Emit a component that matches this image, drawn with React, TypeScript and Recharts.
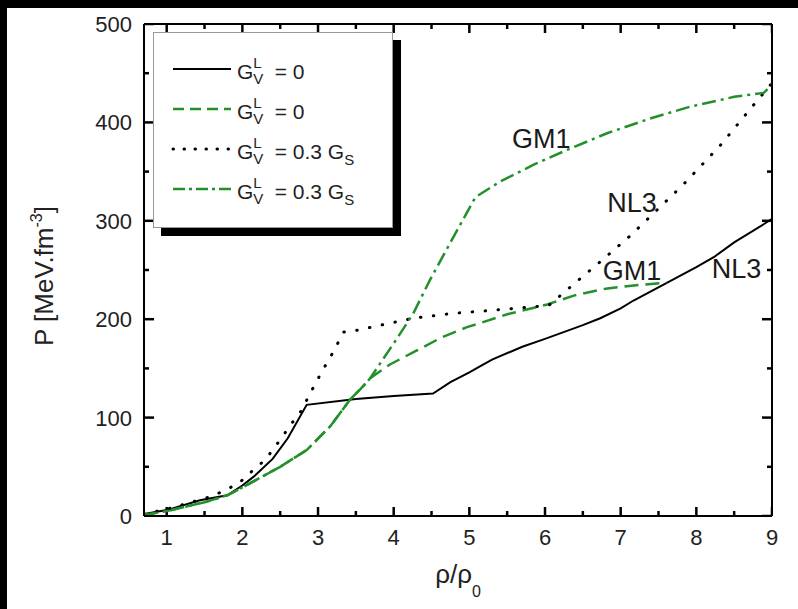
import React from 'react';
import { LineChart, Line, XAxis, YAxis, Legend, ReferenceDot, Label } from 'recharts';

const GREEN = '#23902a';
const FONT = '"Liberation Sans", Arial, Helvetica, sans-serif';

// NL3, G_V^L = 0 (solid black)
const rhoNL3a = [0.7, 1.0, 1.44, 1.8, 2.0, 2.15, 2.4, 2.6, 2.85, 3.5, 4.0, 4.52, 4.75, 5.0, 5.14, 5.3, 5.7, 6.0, 6.5, 6.73, 7.0, 7.17, 7.61, 8.0, 8.23, 8.5, 8.9, 9.0];
const pNL3a = [2, 6, 16, 21, 31, 40, 58, 79, 113, 119, 122, 124.5, 136, 146, 152, 159, 172, 180, 194, 201, 211, 219, 237, 253, 263, 278, 297, 302];

// GM1, G_V^L = 0 (dashed green)
const rhoGM1a = [0.7, 1.0, 1.5, 1.8, 2.0, 2.19, 2.5, 2.85, 3.16, 3.42, 3.56, 3.69, 3.95, 4.3, 4.62, 4.97, 5.14, 5.5, 6.03, 6.38, 6.8, 7.26, 7.61];
const pGM1a = [1, 5, 14, 21, 29, 37, 50, 67, 91, 118, 129, 140, 154, 168, 181, 192, 196, 205, 215, 224, 231, 235, 237];

// NL3, G_V^L = 0.3 G_S (dotted black)
const rhoNL3b = [0.7, 1.0, 1.6, 1.95, 2.12, 2.3, 2.43, 2.55, 2.67, 2.79, 2.87, 3.06, 3.16, 3.25, 3.34, 3.53, 3.89, 4.26, 4.79, 5.14, 5.6, 6.05, 6.4, 6.77, 7.13, 7.48, 7.83, 8.32, 8.76, 9.0];
const pNL3b = [2, 7, 20, 33, 45, 57, 70, 83, 96, 108, 121, 148, 161, 174, 187, 189, 195, 201, 206, 208, 211, 214, 237, 261, 285, 311, 337, 377, 418, 440];

// GM1, G_V^L = 0.3 G_S (dash-dot green)
const rhoGM1b = [0.7, 1.0, 1.5, 1.8, 2.0, 2.19, 2.5, 2.85, 3.16, 3.42, 3.56, 3.69, 4.04, 4.26, 4.48, 4.8, 5.08, 5.41, 5.85, 6.29, 6.82, 7.39, 7.92, 8.5, 8.89, 9.0];
const pGM1b = [1, 5, 14, 21, 29, 37, 50, 67, 91, 118, 129, 140, 180, 206, 240, 285, 324, 340, 357, 372, 389, 404, 416, 426, 430, 438];

const xTicks = [1, 1.5, 2, 2.5, 3, 3.5, 4, 4.5, 5, 5.5, 6, 6.5, 7, 7.5, 8, 8.5, 9];
const yTicks = [0, 50, 100, 150, 200, 250, 300, 350, 400, 450, 500];
const X_DOMAIN = [0.7, 9];
const Y_DOMAIN = [0, 500];

const annotations = [
  { text: 'GM1', x: 5.95, y: 384 },
  { text: 'NL3', x: 7.15, y: 319 },
  { text: 'GM1', x: 7.15, y: 250 },
  { text: 'NL3', x: 8.53, y: 252 },
];

const zip = (xs: number[], ps: number[]) => xs.map((x, i) => ({ x, p: ps[i] }));

const series = [
  { key: 'nl3a', data: zip(rhoNL3a, pNL3a), color: '#000', width: 2, dash: undefined as string | undefined, legendDash: undefined as string | undefined, cap: 'butt', tail: '= 0', sub: '' },
  { key: 'gm1a', data: zip(rhoGM1a, pGM1a), color: GREEN, width: 2.5, dash: '14 7', legendDash: '11 6', cap: 'butt', tail: '= 0', sub: '' },
  { key: 'nl3b', data: zip(rhoNL3b, pNL3b), color: '#000', width: 3, dash: '0.5 12.5', legendDash: '0.5 10.5', cap: 'round', tail: '= 0.3 G', sub: 'S' },
  { key: 'gm1b', data: zip(rhoGM1b, pGM1b), color: GREEN, width: 2.5, dash: '14 5 3 5', legendDash: '12 4 3 4', cap: 'butt', tail: '= 0.3 G', sub: 'S' },
];

// chart geometry
const W = 798;
const H = 609;
const MARGIN = { top: 4, right: 6, bottom: 33, left: 44 };
const AX = { left: 100, right: 20, top: 20, bottom: 60 };
const plotW = W - MARGIN.left - MARGIN.right - AX.left - AX.right;
const plotH = H - MARGIN.top - MARGIN.bottom - AX.top - AX.bottom;
// tick length in px -> data units, so the inward frame ticks sit on the same scales
const dx = (px: number) => (px * (X_DOMAIN[1] - X_DOMAIN[0])) / plotW;
const dy = (px: number) => (px * (Y_DOMAIN[1] - Y_DOMAIN[0])) / plotH;

const isMajorX = (v: number) => Number.isInteger(v);
const isMajorY = (v: number) => v % 100 === 0;

// inward tick marks on all four sides, one short segment each
const xLen = (v: number) => dy(isMajorX(v) ? 9 : 5);
const yLen = (v: number) => dx(isMajorY(v) ? 10 : 5);
const tickSegments = [
  ...xTicks.map((v) => [{ x: v, p: Y_DOMAIN[0] }, { x: v, p: Y_DOMAIN[0] + xLen(v) }]),
  ...xTicks.map((v) => [{ x: v, p: Y_DOMAIN[1] }, { x: v, p: Y_DOMAIN[1] - xLen(v) }]),
  ...yTicks.map((v) => [{ x: X_DOMAIN[0], p: v }, { x: X_DOMAIN[0] + yLen(v), p: v }]),
  ...yTicks.map((v) => [{ x: X_DOMAIN[1], p: v }, { x: X_DOMAIN[1] - yLen(v), p: v }]),
];

const BottomLabel = (props: any) => {
  const { x, y, payload } = props;
  if (!isMajorX(payload.value)) return null;
  return (
    <text x={x} y={y + 29} textAnchor="middle" fontSize={22} fontFamily={FONT} fill="#222">
      {payload.value}
    </text>
  );
};

const LeftLabel = (props: any) => {
  const { x, y, payload } = props;
  if (!isMajorY(payload.value)) return null;
  return (
    <text x={x - 12} y={y + 8} textAnchor="end" fontSize={22} fontFamily={FONT} fill="#222">
      {payload.value}
    </text>
  );
};

const YTitle = (props: any) => {
  const vb = props.viewBox;
  const cx = vb.x + vb.width - 91;
  const cy = vb.y + vb.height / 2 + 6;
  return (
    <text transform={`rotate(-90 ${cx} ${cy})`} x={cx} y={cy} textAnchor="middle" fontSize={26} fontFamily={FONT} fill="#222">
      P [MeV.fm<tspan dy={-11} fontSize={16}>-3</tspan>
      <tspan dy={11}>]</tspan>
    </text>
  );
};

const XTitle = (props: any) => {
  const vb = props.viewBox;
  return (
    <text x={vb.x + vb.width / 2} y={vb.y + 67} textAnchor="middle" fontSize={26} fontFamily={FONT} fill="#222">
      ρ/ρ<tspan dy={14} fontSize={16}>0</tspan>
    </text>
  );
};

const LegendBox = () => (
  <div
    style={{
      width: 240,
      height: 196,
      boxSizing: 'border-box',
      background: '#fff',
      border: '1px solid #999',
      boxShadow: '8px 8px 0 #000',
    }}
  >
    <svg width={238} height={194} style={{ display: 'block' }}>
      {series.map((s, i) => {
        const cy = 36 + i * 40;
        return (
          <g key={s.key} fontFamily={FONT} fill="#222">
            <line x1={19} x2={77} y1={cy} y2={cy} stroke={s.color} strokeWidth={s.width} strokeDasharray={s.legendDash} strokeLinecap={s.cap as any} />
            <text x={83} y={cy + 10} fontSize={21}>
              G
              <tspan dy={5} fontSize={15}>V</tspan>
              <tspan dx={-10} dy={-16} fontSize={15}>L</tspan>
              <tspan dx={13} dy={11} fontSize={21}>{s.tail}</tspan>
              {s.sub && <tspan dy={6} fontSize={15}>{s.sub}</tspan>}
            </text>
          </g>
        );
      })}
    </svg>
  </div>
);

export default function App() {
  return (
    <div style={{ position: 'fixed', left: 0, top: 0, width: W, height: H, background: '#000', overflow: 'hidden' }}>
      <div style={{ position: 'absolute', left: 7, top: 8, right: 0, bottom: 0, background: '#fff' }} />
      <div style={{ position: 'absolute', left: 0, top: 0 }}>
        <LineChart width={W} height={H} margin={MARGIN}>
          <XAxis
            type="number"
            dataKey="x"
            domain={X_DOMAIN}
            allowDataOverflow
            ticks={xTicks}
            interval={0}
            height={AX.bottom}
            tickSize={0}
            tickMargin={0}
            tickLine={false}
            axisLine={{ stroke: '#000', strokeWidth: 2 }}
            tick={<BottomLabel />}
          >
            <Label content={<XTitle />} />
          </XAxis>
          <XAxis
            xAxisId="top"
            orientation="top"
            type="number"
            dataKey="x"
            domain={X_DOMAIN}
            allowDataOverflow
            ticks={xTicks}
            height={AX.top}
            tick={false}
            tickLine={false}
            axisLine={{ stroke: '#000', strokeWidth: 2 }}
          />
          <YAxis
            type="number"
            domain={Y_DOMAIN}
            allowDataOverflow
            ticks={yTicks}
            interval={0}
            width={AX.left}
            tickSize={0}
            tickMargin={0}
            tickLine={false}
            axisLine={{ stroke: '#000', strokeWidth: 2 }}
            tick={<LeftLabel />}
          >
            <Label content={<YTitle />} />
          </YAxis>
          <YAxis
            yAxisId="right"
            orientation="right"
            type="number"
            domain={Y_DOMAIN}
            allowDataOverflow
            ticks={yTicks}
            width={AX.right}
            tick={false}
            tickLine={false}
            axisLine={{ stroke: '#000', strokeWidth: 2 }}
          />
          {tickSegments.map((d, i) => (
            <Line
              key={`tick${i}`}
              data={d}
              dataKey="p"
              type="linear"
              stroke="#000"
              strokeWidth={2.5}
              dot={false}
              activeDot={false}
              legendType="none"
              isAnimationActive={false}
            />
          ))}
          {series.map((s) => (
            <Line
              key={s.key}
              data={s.data}
              dataKey="p"
              type="linear"
              stroke={s.color}
              strokeWidth={s.width}
              strokeDasharray={s.dash}
              strokeLinecap={s.cap as any}
              dot={false}
              activeDot={false}
              isAnimationActive={false}
            />
          ))}
          {annotations.map((a, i) => (
            <ReferenceDot
              key={i}
              x={a.x}
              y={a.y}
              r={0}
              fill="none"
              stroke="none"
              label={{ value: a.text, position: 'center', fontSize: 27, fill: '#1a1a1a', fontFamily: FONT }}
            />
          ))}
          <Legend
            layout="horizontal"
            verticalAlign="middle"
            align="center"
            wrapperStyle={{ left: 153, top: 32, width: 248, height: 204 }}
            content={<LegendBox />}
          />
        </LineChart>
      </div>
    </div>
  );
}
